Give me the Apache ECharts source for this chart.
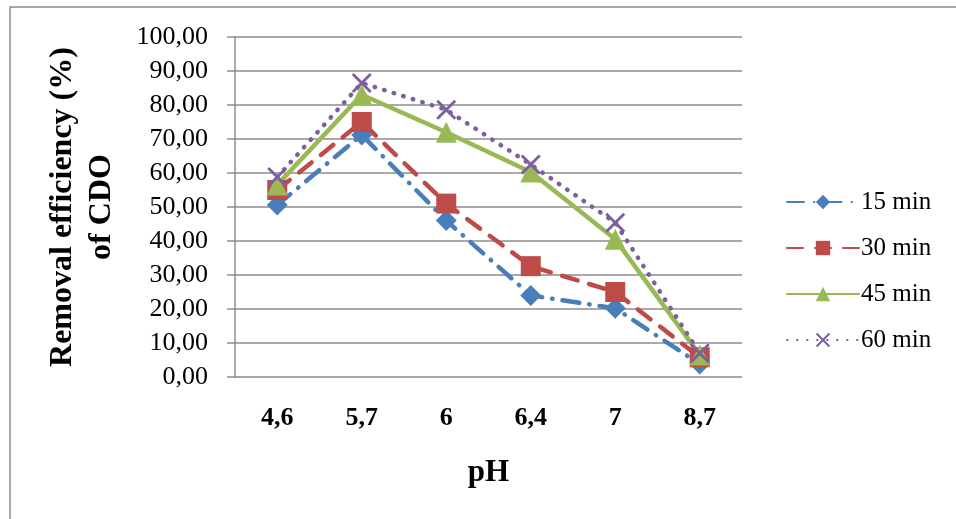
<!DOCTYPE html>
<html>
<head>
<meta charset="utf-8">
<script src="https://cdn.jsdelivr.net/npm/echarts@6/dist/echarts.min.js"></script>
<style>
  html, body { margin: 0; padding: 0; background: #fff; }
  #chart { width: 956px; height: 519px; }
</style>
</head>
<body>
<div id="chart"></div>
<script>
// pH values tested
const categories = ['4,6', '5,7', '6', '6,4', '7', '8,7'];
// COD removal efficiency (%) per contact time
const min15 = [50.6, 71.2, 46.0, 24.0, 20.2, 3.8];
const min30 = [55.0, 75.0, 51.0, 32.6, 25.0, 5.8];
const min45 = [56.5, 83.0, 72.0, 60.3, 40.5, 6.5];
const min60 = [58.8, 86.5, 78.6, 62.5, 45.4, 7.0];
const yTicks = { min: 0, max: 100, step: 10 };

const serif = '"Liberation Serif", "Times New Roman", serif';
const crossPath = 'path://M0,1L1,0L5,4L9,0L10,1L6,5L10,9L9,10L5,6L1,10L0,9L4,5Z';

const chart = echarts.init(document.getElementById('chart'), null, { renderer: 'canvas' });

function lineSeries(name, data, color, dash, symbol, size) {
  return {
    name: name,
    type: 'line',
    data: data,
    symbol: symbol,
    symbolSize: size,
    showSymbol: true,
    animation: false,
    lineStyle: { color: color, width: 4.5, type: dash, cap: 'round' },
    itemStyle: { color: color }
  };
}

chart.setOption({
  backgroundColor: '#ffffff',
  animation: false,
  graphic: [{
    type: 'rect',
    shape: { x: 10, y: 7, width: 960, height: 530 },
    style: { fill: 'none', stroke: '#8c8c8c', lineWidth: 1.5 },
    silent: true
  }],
  grid: { left: 235, right: 214, top: 37, bottom: 142 },
  legend: {
    orient: 'vertical',
    left: 781,
    top: 184,
    itemWidth: 72,
    itemHeight: 18,
    itemGap: 20,
    textStyle: { fontFamily: serif, fontSize: 25, color: '#000', lineHeight: 26, padding: [0, 0, 0, -3] },
    data: ['15 min', '30 min', '45 min', '60 min']
  },
  xAxis: {
    type: 'category',
    data: categories,
    boundaryGap: true,
    name: 'pH',
    nameLocation: 'middle',
    nameGap: 80,
    nameTextStyle: { fontFamily: serif, fontSize: 31, fontWeight: 'bold', color: '#000' },
    axisLine: { show: false },
    axisTick: { show: false },
    axisLabel: { fontFamily: serif, fontSize: 26, fontWeight: 'bold', color: '#000', margin: 28 }
  },
  yAxis: {
    type: 'value',
    min: yTicks.min,
    max: yTicks.max,
    interval: yTicks.step,
    name: 'Removal efficiency (%)\nof CDO',
    nameLocation: 'middle',
    nameRotate: 90,
    nameGap: 114,
    nameTextStyle: { fontFamily: serif, fontSize: 32, fontWeight: 'bold', color: '#000', lineHeight: 39, align: 'center' },
    axisLine: { show: true, lineStyle: { color: '#8c8c8c', width: 1.5 } },
    axisTick: { show: true, inside: false, length: 8, lineStyle: { color: '#8c8c8c', width: 1.5 } },
    splitLine: { show: true, lineStyle: { color: '#8c8c8c', width: 1.5 } },
    axisLabel: {
      fontFamily: serif, fontSize: 26, color: '#000', margin: 27,
      formatter: v => v.toFixed(2).replace('.', ',')
    }
  },
  series: [
    lineSeries('15 min', min15, '#4a7ebb', [17, 10, 0.5, 10], 'diamond', 21),
    lineSeries('30 min', min30, '#be4b48', [16, 12], 'rect', 20),
    lineSeries('45 min', min45, '#98b954', 'solid', 'triangle', 21),
    lineSeries('60 min', min60, '#7d5fa0', [0.5, 9.5], crossPath, 20)
  ]
});
</script>
</body>
</html>
